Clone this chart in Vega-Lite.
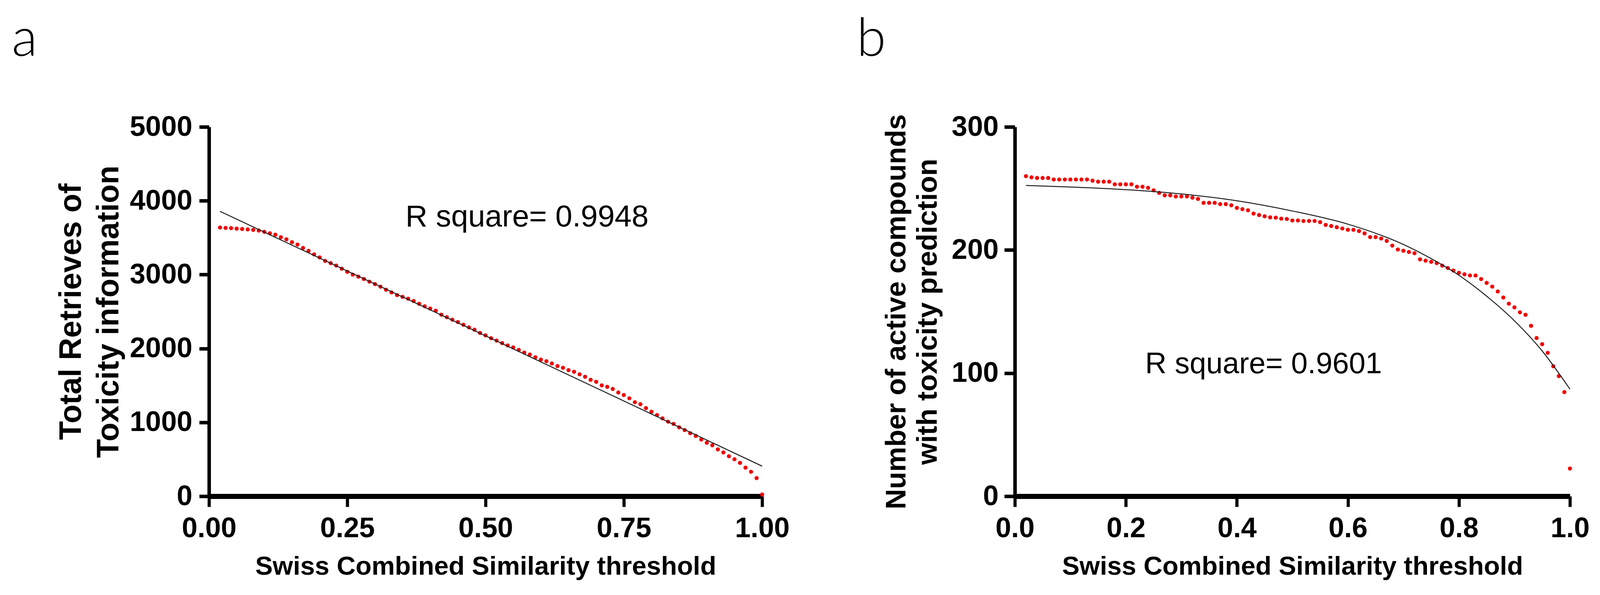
{
  "$schema": "https://vega.github.io/schema/vega-lite/v6.json",
  "background": "white",
  "padding": {"left": 30, "top": 34, "right": 5, "bottom": 5},
  "bounds": "flush",
  "spacing": 647,
  "config": {
    "view": {"stroke": null},
    "font": "Liberation Sans",
    "axis": {
      "grid": false,
      "domainColor": "black",
      "tickColor": "black",
      "labelColor": "black",
      "titleColor": "black",
      "labelFont": "Liberation Sans",
      "titleFont": "Liberation Sans",
      "labelFontWeight": "bold",
      "titleFontWeight": "bold",
      "labelFontSize": 72,
      "labelOverlap": false
    },
    "axisX": {"domainWidth": 13, "tickWidth": 8, "tickSize": 27, "labelPadding": 20, "titleFontSize": 67, "titlePadding": 29, "labelFlush": false},
    "axisY": {"domainWidth": 9, "tickWidth": 9, "tickSize": 25, "labelPadding": 18, "titleFontSize": 79, "titleLineHeight": 96, "titlePadding": 16}
  },
  "datasets": {
    "dotsA": [
      {"x":0.02,"y":3638},{"x":0.03,"y":3633},{"x":0.04,"y":3630},{"x":0.05,"y":3623},{"x":0.06,"y":3618},{"x":0.07,"y":3613},{"x":0.08,"y":3606},{"x":0.09,"y":3597},{"x":0.10,"y":3580},{"x":0.11,"y":3560},
      {"x":0.12,"y":3541},{"x":0.13,"y":3507},{"x":0.14,"y":3478},{"x":0.15,"y":3439},{"x":0.16,"y":3407},{"x":0.17,"y":3361},{"x":0.18,"y":3322},{"x":0.19,"y":3274},{"x":0.20,"y":3233},{"x":0.21,"y":3186},
      {"x":0.22,"y":3155},{"x":0.23,"y":3123},{"x":0.24,"y":3080},{"x":0.25,"y":3038},{"x":0.26,"y":3000},{"x":0.27,"y":2973},{"x":0.28,"y":2941},{"x":0.29,"y":2905},{"x":0.30,"y":2873},{"x":0.31,"y":2837},
      {"x":0.32,"y":2796},{"x":0.33,"y":2759},{"x":0.34,"y":2723},{"x":0.35,"y":2699},{"x":0.36,"y":2674},{"x":0.37,"y":2643},{"x":0.38,"y":2606},{"x":0.39,"y":2572},{"x":0.40,"y":2541},{"x":0.41,"y":2512},
      {"x":0.42,"y":2458},{"x":0.43,"y":2424},{"x":0.44,"y":2390},{"x":0.45,"y":2359},{"x":0.46,"y":2322},{"x":0.47,"y":2286},{"x":0.48,"y":2254},{"x":0.49,"y":2211},{"x":0.50,"y":2177},{"x":0.51,"y":2139},
      {"x":0.52,"y":2107},{"x":0.53,"y":2073},{"x":0.54,"y":2042},{"x":0.55,"y":2015},{"x":0.56,"y":1981},{"x":0.57,"y":1945},{"x":0.58,"y":1918},{"x":0.59,"y":1882},{"x":0.60,"y":1850},{"x":0.61,"y":1828},
      {"x":0.62,"y":1797},{"x":0.63,"y":1763},{"x":0.64,"y":1739},{"x":0.65,"y":1707},{"x":0.66,"y":1685},{"x":0.67,"y":1651},{"x":0.68,"y":1617},{"x":0.69,"y":1576},{"x":0.70,"y":1549},{"x":0.71,"y":1501},
      {"x":0.72,"y":1481},{"x":0.73,"y":1452},{"x":0.74,"y":1404},{"x":0.75,"y":1370},{"x":0.76,"y":1326},{"x":0.77,"y":1273},{"x":0.78,"y":1246},{"x":0.79,"y":1193},{"x":0.80,"y":1144},{"x":0.81,"y":1100},
      {"x":0.82,"y":1054},{"x":0.83,"y":1010},{"x":0.84,"y":979},{"x":0.85,"y":933},{"x":0.86,"y":896},{"x":0.87,"y":853},{"x":0.88,"y":816},{"x":0.89,"y":768},{"x":0.90,"y":724},{"x":0.91,"y":690},
      {"x":0.92,"y":634},{"x":0.93,"y":593},{"x":0.94,"y":542},{"x":0.95,"y":501},{"x":0.96,"y":452},{"x":0.97,"y":387},{"x":0.98,"y":331},{"x":0.99,"y":246},{"x":1.00,"y":24}
    ],
    "fitA": [{"x":0.02,"y":3856},{"x":0.5,"y":2172},{"x":1.0,"y":407}],
    "labA": [{"x":0.575,"y":3652,"t":"R square= 0.9948"}],
    "dotsB": [
      {"x":0.02,"y":260},{"x":0.03,"y":259},{"x":0.04,"y":258.5},{"x":0.05,"y":258.5},{"x":0.06,"y":258.5},{"x":0.07,"y":257.3},{"x":0.08,"y":257.3},{"x":0.09,"y":257.3},{"x":0.10,"y":257.3},{"x":0.11,"y":257.3},
      {"x":0.12,"y":257.3},{"x":0.13,"y":257.3},{"x":0.14,"y":256.3},{"x":0.15,"y":255.5},{"x":0.16,"y":255.5},{"x":0.17,"y":255.5},{"x":0.18,"y":253.4},{"x":0.19,"y":253.4},{"x":0.20,"y":253.4},{"x":0.21,"y":253.4},
      {"x":0.22,"y":251.4},{"x":0.23,"y":251.4},{"x":0.24,"y":250.5},{"x":0.25,"y":248.5},{"x":0.26,"y":246.4},{"x":0.27,"y":244.4},{"x":0.28,"y":244.4},{"x":0.29,"y":243.5},{"x":0.30,"y":243.5},{"x":0.31,"y":243.5},
      {"x":0.32,"y":242.5},{"x":0.33,"y":241.5},{"x":0.34,"y":238.3},{"x":0.35,"y":238.3},{"x":0.36,"y":238.3},{"x":0.37,"y":237.3},{"x":0.38,"y":237.3},{"x":0.39,"y":236.3},{"x":0.40,"y":234.2},{"x":0.41,"y":233.2},
      {"x":0.42,"y":232.3},{"x":0.43,"y":229.6},{"x":0.44,"y":228.4},{"x":0.45,"y":227.4},{"x":0.46,"y":226.5},{"x":0.47,"y":226.3},{"x":0.48,"y":225.5},{"x":0.49,"y":225.2},{"x":0.50,"y":224},{"x":0.51,"y":224},
      {"x":0.52,"y":223.6},{"x":0.53,"y":223.6},{"x":0.54,"y":223.6},{"x":0.55,"y":222.6},{"x":0.56,"y":220.4},{"x":0.57,"y":219.5},{"x":0.58,"y":218.5},{"x":0.59,"y":217.5},{"x":0.60,"y":216.4},{"x":0.61,"y":216.4},
      {"x":0.62,"y":215.4},{"x":0.63,"y":213.5},{"x":0.64,"y":210.5},{"x":0.65,"y":210.5},{"x":0.66,"y":209.4},{"x":0.67,"y":207.4},{"x":0.68,"y":203.6},{"x":0.69,"y":200.4},{"x":0.70,"y":199.4},{"x":0.71,"y":198.4},
      {"x":0.72,"y":197.4},{"x":0.73,"y":192.4},{"x":0.74,"y":191.4},{"x":0.75,"y":190.4},{"x":0.76,"y":189.4},{"x":0.77,"y":187.3},{"x":0.78,"y":185.4},{"x":0.79,"y":183.4},{"x":0.80,"y":181.5},{"x":0.81,"y":180.3},
      {"x":0.82,"y":179.3},{"x":0.83,"y":179.3},{"x":0.84,"y":176.4},{"x":0.85,"y":173.3},{"x":0.86,"y":170.3},{"x":0.87,"y":166.3},{"x":0.88,"y":161.4},{"x":0.89,"y":156.4},{"x":0.90,"y":153.4},{"x":0.91,"y":149.4},
      {"x":0.92,"y":147.4},{"x":0.93,"y":138.4},{"x":0.94,"y":128.5},{"x":0.95,"y":123.5},{"x":0.96,"y":116.5},{"x":0.97,"y":105.6},{"x":0.98,"y":97.6},{"x":0.99,"y":84.6},{"x":1.00,"y":22.5}
    ],
    "fitB": [
      {"x":0.02,"y":252.4},{"x":0.1,"y":251.2},{"x":0.2,"y":249},{"x":0.3,"y":245.5},{"x":0.4,"y":240},{"x":0.5,"y":231.7},{"x":0.6,"y":221},{"x":0.7,"y":204.5},{"x":0.75,"y":193},{"x":0.8,"y":179.5},{"x":0.85,"y":162.5},{"x":0.9,"y":142.5},{"x":0.95,"y":118},{"x":1.0,"y":87}
    ],
    "labB": [{"x":0.448,"y":100,"t":"R square= 0.9601"}]
  },
  "hconcat": [
    {
      "width": 1416,
      "height": 946,
      "title": {"text": "a", "anchor": "start", "frame": "group", "dx": -505, "fontSize": 136, "font": "Lato", "fontWeight": 300, "color": "black", "offset": 117},
      "layer": [
        {
          "data": {"name": "dotsA"},
          "mark": {"type": "circle", "color": "#F20000", "size": 110, "opacity": 1},
          "encoding": {
            "x": {"field": "x", "type": "quantitative", "scale": {"domain": [0, 1], "nice": false},
                  "axis": {"values": [0, 0.25, 0.5, 0.75, 1], "format": ".2f", "title": "Swiss Combined Similarity threshold"}},
            "y": {"field": "y", "type": "quantitative", "scale": {"domain": [0, 5000], "nice": false},
                  "axis": {"values": [0, 1000, 2000, 3000, 4000, 5000], "format": "d", "title": ["Total Retrieves of", "Toxicity information"]}}
          }
        },
        {
          "data": {"name": "fitA"},
          "mark": {"type": "line", "color": "#222222", "strokeWidth": 2.5, "interpolate": "monotone"},
          "encoding": {
            "x": {"field": "x", "type": "quantitative"},
            "y": {"field": "y", "type": "quantitative"}
          }
        },
        {
          "data": {"name": "labA"},
          "mark": {"type": "text", "font": "Liberation Sans", "fontSize": 78, "color": "black", "align": "center", "baseline": "alphabetic"},
          "encoding": {
            "x": {"field": "x", "type": "quantitative"},
            "y": {"field": "y", "type": "quantitative"},
            "text": {"field": "t"}
          }
        }
      ]
    },
    {
      "width": 1421,
      "height": 946,
      "title": {"text": "b", "anchor": "start", "frame": "group", "dx": -405, "fontSize": 136, "font": "Lato", "fontWeight": 300, "color": "black", "offset": 117},
      "layer": [
        {
          "data": {"name": "dotsB"},
          "mark": {"type": "circle", "color": "#F20000", "size": 110, "opacity": 1},
          "encoding": {
            "x": {"field": "x", "type": "quantitative", "scale": {"domain": [0, 1], "nice": false},
                  "axis": {"values": [0, 0.2, 0.4, 0.6, 0.8, 1], "format": ".1f", "title": "Swiss Combined Similarity threshold"}},
            "y": {"field": "y", "type": "quantitative", "scale": {"domain": [0, 300], "nice": false},
                  "axis": {"values": [0, 100, 200, 300], "format": "d", "tickSize": 27, "labelPadding": 15, "titleFontSize": 72, "titleLineHeight": 80, "titlePadding": 23, "title": ["Number of active compounds", "with toxicity prediction"]}}
          }
        },
        {
          "data": {"name": "fitB"},
          "mark": {"type": "line", "color": "#222222", "strokeWidth": 2.5, "interpolate": "monotone"},
          "encoding": {
            "x": {"field": "x", "type": "quantitative"},
            "y": {"field": "y", "type": "quantitative"}
          }
        },
        {
          "data": {"name": "labB"},
          "mark": {"type": "text", "font": "Liberation Sans", "fontSize": 76, "color": "black", "align": "center", "baseline": "alphabetic"},
          "encoding": {
            "x": {"field": "x", "type": "quantitative"},
            "y": {"field": "y", "type": "quantitative"},
            "text": {"field": "t"}
          }
        }
      ]
    }
  ]
}
